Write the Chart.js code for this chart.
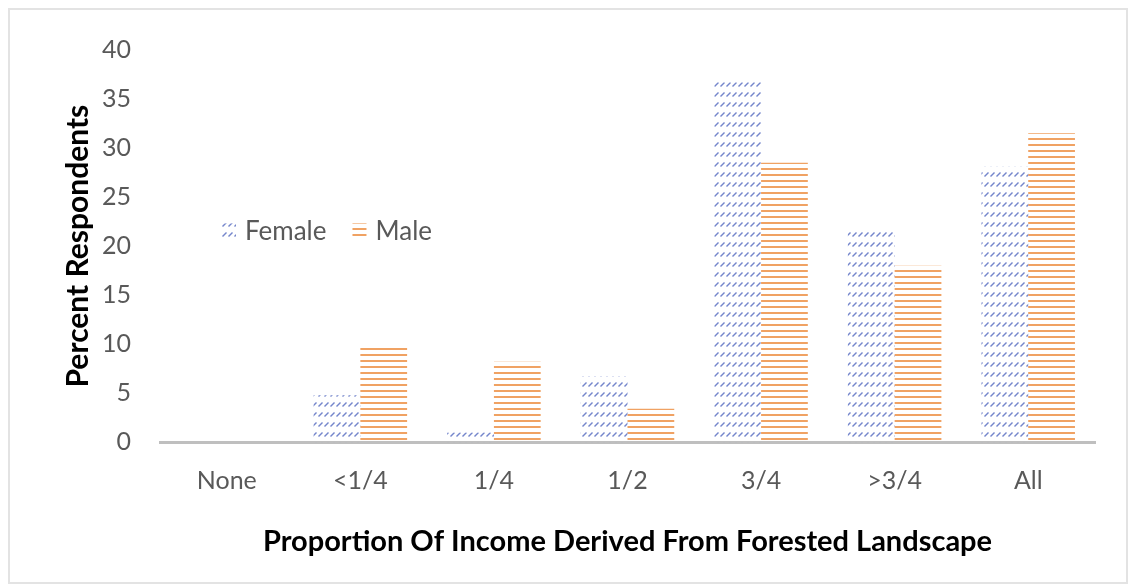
<!DOCTYPE html>
<html>
<head>
<meta charset="utf-8">
<script src="https://cdn.jsdelivr.net/npm/chart.js@4/dist/chart.umd.min.js"></script>
<style>
  html, body { margin: 0; padding: 0; background: #fff; }
  .frame { position: absolute; left: 8px; top: 8px; width: 1116px; height: 572px; border: 2px solid #e3e3e3; }
  .wrap { position: absolute; left: 0; top: 0; width: 1130px; height: 585px; }
</style>
</head>
<body>
<div class="frame"></div>
<div class="wrap"><canvas id="chart"></canvas></div>
<script>
const categories = ['None', '<1/4', '1/4', '1/2', '3/4', '>3/4', 'All'];
const female = [0, 4.8, 1, 6.7, 36.7, 21.6, 28.1];
const male = [0, 10, 8.2, 3.4, 28.5, 18, 31.5];
const yTicks = [0, 5, 10, 15, 20, 25, 30, 35, 40];

const FONT = 'Lato, "Open Sans", sans-serif';

// little tiles used as bar fills
function hatchPattern() {
    const c = document.createElement('canvas');
    c.width = 6; c.height = 10;
    const g = c.getContext('2d');
    g.strokeStyle = '#7586cc';
    g.lineWidth = 1.5;
    g.beginPath();
    g.moveTo(0.5, 6.5);
    g.lineTo(4.5, 2.5);
    g.stroke();
    return g.createPattern(c, 'repeat');
}

function stripePattern() {
    const c = document.createElement('canvas');
    c.width = 4; c.height = 6;
    const g = c.getContext('2d');
    g.fillStyle = '#f0a263';
    g.fillRect(0, 0, 4, 2);
    return g.createPattern(c, 'repeat');
}

const femaleFill = hatchPattern();
const maleFill = stripePattern();

// legend sits inside the plot, left of the bars
const insideLegend = {
    id: 'insideLegend',
    afterDraw(chart) {
        const ctx = chart.ctx;
        const y = chart.scales.y.getPixelForValue(21.6);
        let x = chart.chartArea.left + 62;
        ctx.save();
        ctx.font = '26px ' + FONT;
        ctx.textBaseline = 'middle';
        chart.data.datasets.forEach(ds => {
            ctx.fillStyle = ds.backgroundColor;
            ctx.fillRect(x, y - 7, 14, 14);
            ctx.fillStyle = '#595959';
            ctx.fillText(ds.label, x + 23, y + 1);
            x += 23 + ctx.measureText(ds.label).width + 26;
        });
        ctx.restore();
    }
};

new Chart(document.getElementById('chart'), {
    type: 'bar',
    data: {
        labels: categories,
        datasets: [
            { label: 'Female', data: female, backgroundColor: femaleFill },
            { label: 'Male', data: male, backgroundColor: maleFill }
        ]
    },
    options: {
        responsive: true,
        maintainAspectRatio: false,
        animation: false,
        categoryPercentage: 0.7,
        barPercentage: 1,
        layout: { padding: { top: 50, right: 35, bottom: 26, left: 0 } },
        plugins: {
            legend: { display: false },
            tooltip: { enabled: false }
        },
        scales: {
            x: {
                grid: { display: false, drawTicks: false },
                border: { display: true, color: '#bfbfbf', width: 3 },
                ticks: { color: '#595959', font: { family: FONT, size: 25 }, padding: 24 },
                title: {
                    display: true,
                    text: 'Proportion Of Income Derived From Forested Landscape',
                    color: '#000',
                    font: { family: FONT, size: 29, weight: 'bold' },
                    padding: { top: 4, bottom: 0 }
                }
            },
            y: {
                min: 0,
                max: 40,
                afterBuildTicks(scale) {
                    scale.ticks = yTicks.map(v => ({ value: v }));
                },
                afterFit(scale) { scale.width = 160; },
                grid: { display: false, drawTicks: false },
                border: { display: false },
                ticks: { color: '#595959', font: { family: FONT, size: 25 }, padding: 29 },
                title: {
                    display: true,
                    text: 'Percent Respondents',
                    color: '#000',
                    font: { family: FONT, size: 30, weight: 'bold' },
                    padding: { top: 60, bottom: 0 }
                }
            }
        }
    },
    plugins: [insideLegend]
});
</script>
</body>
</html>
